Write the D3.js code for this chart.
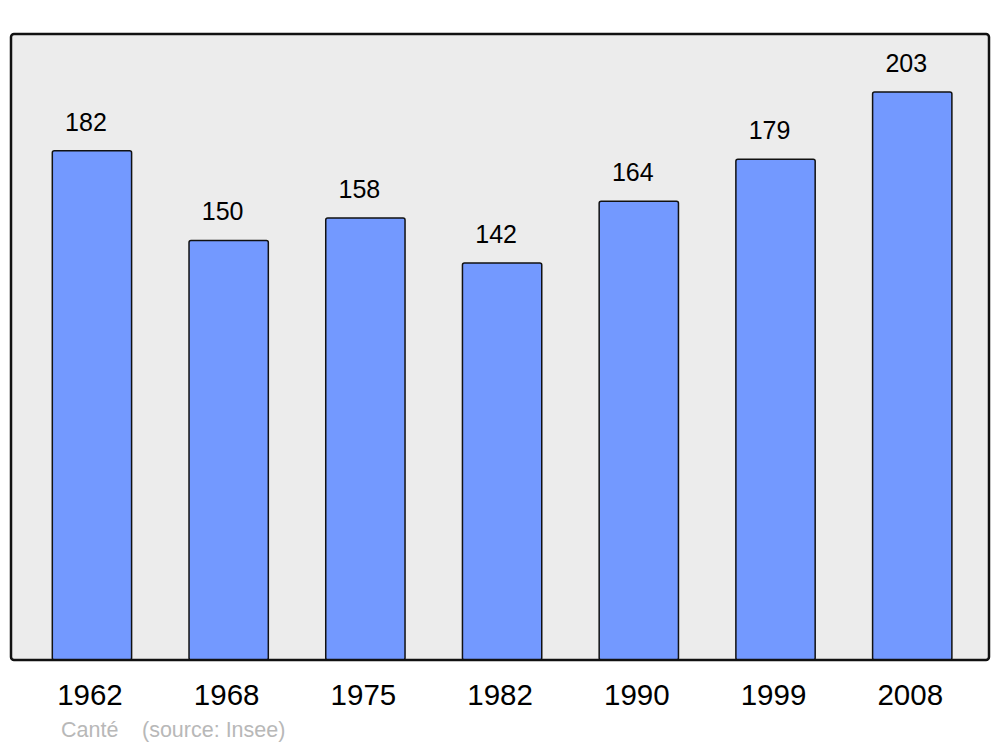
<!DOCTYPE html>
<html>
<head>
<meta charset="utf-8">
<script src="https://cdn.jsdelivr.net/npm/d3@7"></script>
<style>
  body { margin: 0; background: #fff; }
  svg { display: block; font-family: "Liberation Sans", Arial, sans-serif; }
</style>
</head>
<body>
<div class="chart"></div>
<script>
const years = ['1962', '1968', '1975', '1982', '1990', '1999', '2008'];
const population = [182, 150, 158, 142, 164, 179, 203];
const commune = 'Canté';
const source = '(source: Insee)';

const width = 1000;
const height = 747;
const frame = { left: 11, right: 989, top: 34, bottom: 660 };

const svg = d3
  .select('.chart')
  .append('svg')
  .attr('width', width)
  .attr('height', height);

// plot background
svg
  .append('rect')
  .attr('x', frame.left)
  .attr('y', frame.top)
  .attr('width', frame.right - frame.left)
  .attr('height', frame.bottom - frame.top)
  .attr('rx', 3)
  .style('fill', '#ececec');

const x = d3
  .scaleBand()
  .domain(years)
  .range([23.6, 980.6])
  .paddingInner(0.42)
  .paddingOuter(0.21);

const y = d3
  .scaleLinear()
  .domain([0, d3.max(population) * 1.1])
  .range([frame.bottom, frame.top]);

const data = years.map((yr, i) => ({ year: yr, value: population[i] }));

svg
  .selectAll('.bar')
  .data(data)
  .join('rect')
  .attr('class', 'bar')
  .attr('x', (d) => x(d.year))
  .attr('y', (d) => y(d.value) + 1)
  .attr('width', x.bandwidth())
  .attr('height', (d) => frame.bottom - y(d.value) - 1)
  .attr('rx', 2)
  .style('fill', '#7399ff')
  .style('stroke', '#111')
  .style('stroke-width', 1.5);

svg
  .selectAll('.value')
  .data(data)
  .join('text')
  .attr('class', 'value')
  .attr('x', (d) => x(d.year) + x.bandwidth() / 2 - 6)
  .attr('y', (d) => y(d.value) - 19)
  .attr('text-anchor', 'middle')
  .style('font-size', '25px')
  .style('fill', '#000')
  .text((d) => d.value);

// frame border drawn over bars
svg
  .append('rect')
  .attr('x', frame.left)
  .attr('y', frame.top)
  .attr('width', frame.right - frame.left)
  .attr('height', frame.bottom - frame.top)
  .attr('rx', 3)
  .style('fill', 'none')
  .style('stroke', '#111')
  .style('stroke-width', 2.5);

svg
  .selectAll('.year')
  .data(years)
  .join('text')
  .attr('class', 'year')
  .attr('x', (d) => x(d) + x.bandwidth() / 2 - 2)
  .attr('y', 705)
  .attr('text-anchor', 'middle')
  .style('font-size', '29.5px')
  .style('fill', '#000')
  .text((d) => d);

svg
  .append('text')
  .attr('x', 61)
  .attr('y', 737)
  .style('font-size', '21.5px')
  .style('fill', '#b8b8b8')
  .text(commune);

svg
  .append('text')
  .attr('x', 142)
  .attr('y', 737)
  .style('font-size', '21.5px')
  .style('fill', '#b8b8b8')
  .text(source);
</script>
</body>
</html>
